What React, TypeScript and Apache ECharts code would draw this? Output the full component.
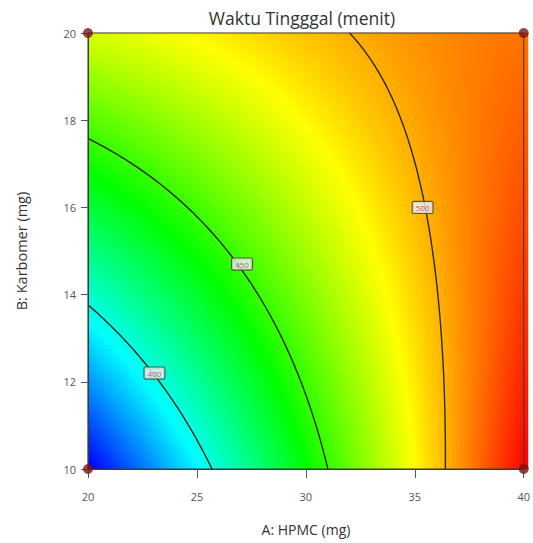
import React, { useEffect, useRef } from "react";
import * as echarts from "echarts";

const chartTitle = "Waktu Tingggal (menit)";
const xName = "A: HPMC (mg)";
const yName = "B: Karbomer (mg)";
const xRange = [20, 40];
const yRange = [10, 20];
const xInterval = 5;
const yInterval = 2;
const contourLevels = [400, 450, 500];

// points: [A, B]
const trace400 = [[20, 13.72], [21.36, 13.03], [22.91, 12.2], [24.09, 11.35], [25.0, 10.5], [25.5, 10]];
const trace450 = [[20, 17.55], [22.91, 16.79], [25.18, 15.78], [26.68, 14.79], [28.36, 13.72], [29.55, 12.5], [30.45, 11.12], [31.0, 10]];
const trace500 = [[31.09, 20], [32.68, 19.2], [33.86, 18.28], [34.77, 17.27], [35.32, 16.35], [35.68, 15.2], [36.0, 13.72], [36.32, 12.2], [36.6, 10]];
// response values: [A, B, response]
const spotValues = [[20, 10, 345], [40, 10, 533], [40, 20, 509], [20, 20, 479], [27.4, 20, 489], [40, 15, 520], [30, 15, 468]];
// contour label boxes: [A, B, text]
const contourLabels: [number, number, string][] = [[23.05, 12.2, "400"], [27.07, 14.7, "450"], [35.36, 16.0, "500"]];
// design points at the corners
const designPoints = [[20, 10], [40, 10], [20, 20], [40, 20]];
const colorStops = ["#0000ff", "#00ffff", "#00ff00", "#ffff00", "#ff0000"];

function terms(A: number, B: number) {
  const a = (A - 30) / 10, b = (B - 15) / 5;
  return [1, a, b, a * b, a * a, b * b, a * a * b, a * b * b, a * a * a, b * b * b];
}

function fitModel() {
  const rows: [number[], number, number][] = [];
  const traces = [trace400, trace450, trace500];
  traces.forEach((tr, k) => tr.forEach((p) => rows.push([terms(p[0], p[1]), contourLevels[k], 1])));
  spotValues.forEach((p) => rows.push([terms(p[0], p[1]), p[2], 0.8]));
  const n = 10;
  const M = Array.from({ length: n }, () => new Array(n + 1).fill(0));
  rows.forEach(([t, y, w]) => {
    for (let i = 0; i < n; i++) {
      for (let j = 0; j < n; j++) M[i][j] += w * t[i] * t[j];
      M[i][n] += w * t[i] * y;
    }
  });
  for (let i = 0; i < n; i++) M[i][i] += 1e-6;
  for (let c = 0; c < n; c++) {
    let p = c;
    for (let r = c + 1; r < n; r++) if (Math.abs(M[r][c]) > Math.abs(M[p][c])) p = r;
    [M[c], M[p]] = [M[p], M[c]];
    for (let r = 0; r < n; r++) {
      if (r === c) continue;
      const f = M[r][c] / M[c][c];
      for (let k = c; k <= n; k++) M[r][k] -= f * M[c][k];
    }
  }
  return M.map((row, i) => row[n] / row[i]);
}

function contourLines(f: (A: number, B: number) => number, level: number) {
  const N = 200, R = 120;
  const [A0, A1] = xRange, [B0, B1] = yRange;
  const xs = (i: number) => A0 + (i * (A1 - A0)) / N;
  const ys = (j: number) => B0 + (j * (B1 - B0)) / R;
  const v: number[][] = [];
  for (let i = 0; i <= N; i++) {
    v.push([]);
    for (let j = 0; j <= R; j++) v[i].push(f(xs(i), ys(j)) - level);
  }
  const pts = new Map<string, number[]>();
  const adj = new Map<string, string[]>();
  const ep = (key: string, i1: number, j1: number, i2: number, j2: number) => {
    if (!pts.has(key)) {
      const a = v[i1][j1], b = v[i2][j2];
      const t = a / (a - b);
      pts.set(key, [xs(i1) + t * (xs(i2) - xs(i1)), ys(j1) + t * (ys(j2) - ys(j1))]);
    }
    return key;
  };
  const link = (p: string, q: string) => {
    if (!adj.has(p)) adj.set(p, []);
    if (!adj.has(q)) adj.set(q, []);
    adj.get(p)!.push(q);
    adj.get(q)!.push(p);
  };
  for (let i = 0; i < N; i++) {
    for (let j = 0; j < R; j++) {
      const c: string[] = [];
      const s = (a: number) => a < 0;
      if (s(v[i][j]) !== s(v[i + 1][j])) c.push(ep(`h${i},${j}`, i, j, i + 1, j));
      if (s(v[i + 1][j]) !== s(v[i + 1][j + 1])) c.push(ep(`v${i + 1},${j}`, i + 1, j, i + 1, j + 1));
      if (s(v[i][j + 1]) !== s(v[i + 1][j + 1])) c.push(ep(`h${i},${j + 1}`, i, j + 1, i + 1, j + 1));
      if (s(v[i][j]) !== s(v[i][j + 1])) c.push(ep(`v${i},${j}`, i, j, i, j + 1));
      if (c.length === 2) link(c[0], c[1]);
      if (c.length === 4) { link(c[0], c[1]); link(c[2], c[3]); }
    }
  }
  const visited = new Set<string>();
  const lines: number[][][] = [];
  const starts = [...adj.keys()].sort((p, q) => adj.get(p)!.length - adj.get(q)!.length);
  for (const st of starts) {
    if (visited.has(st)) continue;
    const line: number[][] = [];
    let cur: string | undefined = st;
    while (cur) {
      visited.add(cur);
      line.push(pts.get(cur)!);
      cur = adj.get(cur)!.find((k) => !visited.has(k));
    }
    if (line.length > 1) lines.push(line);
  }
  return lines;
}

export default function App() {
  const ref = useRef<HTMLDivElement>(null);
  useEffect(() => {
    if (!ref.current) return;
    const chart = echarts.init(ref.current, undefined, { renderer: "svg" });
    const coef = fitModel();
    const f = (A: number, B: number) => terms(A, B).reduce((s, t, i) => s + t * coef[i], 0);

    const NX = 110, NY = 109;
    const heat: number[][] = [];
    let vmin = Infinity, vmax = -Infinity;
    for (let i = 0; i < NX; i++) {
      for (let j = 0; j < NY; j++) {
        const A = xRange[0] + ((i + 0.5) * (xRange[1] - xRange[0])) / NX;
        const B = yRange[0] + ((j + 0.5) * (yRange[1] - yRange[0])) / NY;
        const val = f(A, B);
        vmin = Math.min(vmin, val);
        vmax = Math.max(vmax, val);
        heat.push([i, j, val]);
      }
    }
    const cats = (n: number) => Array.from({ length: n }, (_, k) => String(k));

    const lineSeries: any[] = [];
    contourLevels.forEach((lv) => {
      contourLines(f, lv).forEach((ln) => {
        lineSeries.push({
          type: "line",
          xAxisIndex: 0,
          yAxisIndex: 0,
          data: ln,
          showSymbol: false,
          symbol: "none",
          silent: true,
          z: 4,
          lineStyle: { color: "#2a2818", width: 1.4 },
        });
      });
    });

    const font = "'Open Sans', 'Noto Sans', sans-serif";
    const left = 88, top = 33, w = 440, h = 436;

    chart.setOption({
      animation: false,
      grid: [
        { left, top, width: w, height: h, show: true, borderColor: "#3a3a3a", borderWidth: 1, z: 7, backgroundColor: "transparent" },
        { left, top, width: w, height: h },
      ],
      xAxis: [
        {
          type: "value", gridIndex: 0, min: xRange[0], max: xRange[1], interval: xInterval, z: 8,
          axisLine: { show: true, lineStyle: { color: "#3a3a3a", width: 1 } },
          axisTick: { show: true, length: 9, lineStyle: { color: "#555" } },
          axisLabel: { margin: 22, fontSize: 11, color: "#555", fontFamily: font },
          splitLine: { show: false },
        },
        { type: "category", gridIndex: 1, data: cats(NX), show: false, boundaryGap: true },
      ],
      yAxis: [
        {
          type: "value", gridIndex: 0, min: yRange[0], max: yRange[1], interval: yInterval, z: 8,
          axisLine: { show: true, lineStyle: { color: "#3a3a3a", width: 1 } },
          axisTick: { show: true, length: 7, lineStyle: { color: "#555" } },
          axisLabel: { margin: 12, fontSize: 11, color: "#555", fontFamily: font },
          splitLine: { show: false },
        },
        { type: "category", gridIndex: 1, data: cats(NY), show: false, boundaryGap: true },
      ],
      visualMap: {
        type: "continuous", show: false, seriesIndex: 0, min: vmin, max: vmax, dimension: 2,
        inRange: { color: colorStops },
      },
      graphic: [
        { type: "text", x: 302, y: 18, z: 10, style: { text: chartTitle, align: "center", verticalAlign: "middle", textAlign: "center", textVerticalAlign: "middle", fontSize: 17.5, fill: "#333", fontFamily: font } },
        { type: "text", x: 306, y: 529, z: 10, style: { text: xName, align: "center", verticalAlign: "middle", textAlign: "center", textVerticalAlign: "middle", fontSize: 14, fill: "#333", fontFamily: font } },
        { type: "text", x: 21, y: 251, rotation: Math.PI / 2, z: 10, style: { text: yName, align: "center", verticalAlign: "middle", textAlign: "center", textVerticalAlign: "middle", fontSize: 14.5, fill: "#333", fontFamily: font } },
      ],
      series: [
        {
          type: "heatmap", xAxisIndex: 1, yAxisIndex: 1, data: heat, progressive: 0, z: 1, silent: true,
          itemStyle: { borderWidth: 0 }, emphasis: { disabled: true },
        },
        ...lineSeries,
        {
          type: "scatter", xAxisIndex: 0, yAxisIndex: 0, z: 6, silent: true, symbolSize: 1,
          itemStyle: { color: "rgba(0,0,0,0)" },
          data: contourLabels.map((l) => ({ value: [l[0], l[1]], name: l[2] })),
          label: {
            show: true, position: "inside", formatter: "{b}", fontSize: 8, color: "#a8386a", fontFamily: font,
            backgroundColor: "#f0f0f0", borderColor: "#3c4a34", borderWidth: 1.2, borderRadius: 1, padding: [2, 3, 1, 3],
          },
        },
        {
          type: "scatter", xAxisIndex: 0, yAxisIndex: 0, z: 9, silent: true, clip: false, symbolSize: 10,
          itemStyle: { color: "#7a1414" }, data: designPoints,
        },
      ],
    });
    return () => chart.dispose();
  }, []);
  return <div ref={ref} style={{ position: "absolute", left: 0, top: 0, width: 533, height: 543, background: "#fff" }} />;
}
